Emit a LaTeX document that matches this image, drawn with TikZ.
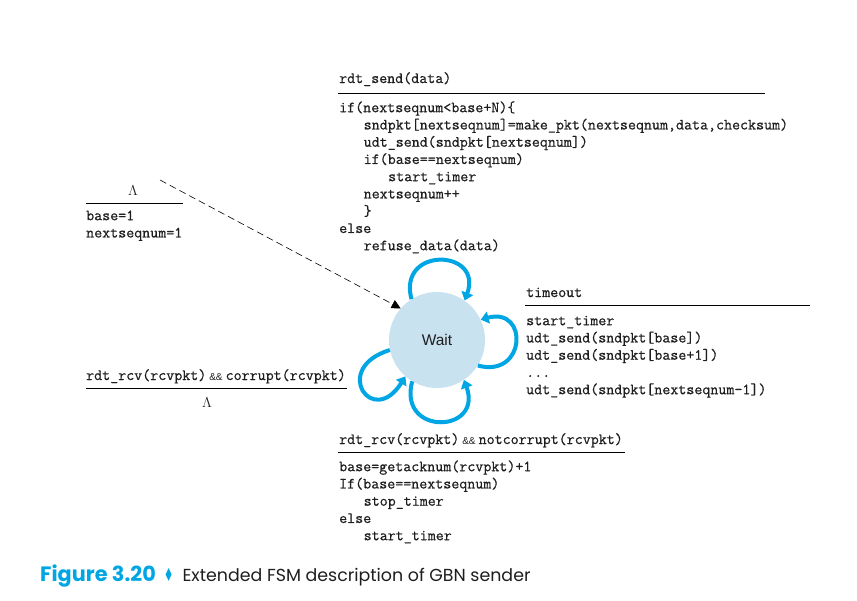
\documentclass[tikz,border=0pt]{standalone}
\usepackage{fontspec}
\setmainfont{Liberation Sans}
\setmonofont{Latin Modern Mono}[FakeBold=0.6]
\newfontfamily\capfont{Poppins}
\newfontfamily\dingfont{DejaVu Sans}
\usetikzlibrary{arrows.meta}
\definecolor{loopblue}{RGB}{0,166,228}
\definecolor{statefill}{RGB}{201,226,239}
\definecolor{codegray}{RGB}{30,30,30}
\newcommand\codefnt{\fontsize{15.55}{17.25}\selectfont\ttfamily}
\newcommand\tb{\hspace*{24.5pt}}
\newcommand\fs{\rule{0pt}{12pt}}
\newcommand\amps{\hspace{3pt}{\fontsize{10}{10}\selectfont\rmfamily\&\&}\hspace{3pt}}
\begin{document}
\begin{tikzpicture}[x=1pt,y=-1pt,
  code/.style={font=\codefnt, text=codegray, inner sep=0pt, align=left, anchor=north west},
  head/.style={font=\codefnt, text=codegray, inner sep=0pt, anchor=base west},
  rulel/.style={line width=0.8pt, black},
  state/.style={circle, fill=statefill, minimum size=96pt, inner sep=0pt,
    font=\fontsize{15.5}{18}\selectfont, text=codegray},
  selfloop/.style={line width=4pt, loopblue, -{Triangle[length=8pt,width=12pt]}},
  initarrow/.style={dash pattern=on 7pt off 4pt, line width=0.6pt, black, -{Triangle[length=9pt,width=9pt]}}]
\useasboundingbox (0,0) rectangle (857,600);

% state
\node[state] (wait) at (437,340) {Wait};

% rdt_send
\node[head] (sendh) at (339,83) {rdt\_send(data)};
\draw[rulel] (338,93) -- (765,93);
\node[code] (sendb) at (339,100) {\fs if(nextseqnum<base+N)\{\\
\tb sndpkt[nextseqnum]=make\_pkt(nextseqnum,data,checksum)\\
\tb udt\_send(sndpkt[nextseqnum])\\
\tb if(base==nextseqnum)\\
\tb\tb start\_timer\\
\tb nextseqnum++\\
\tb \}\\
else\\
\tb refuse\_data(data)};

% initial
\node[head] (inith) at (128,195) {$\Lambda$};
\draw[rulel] (86,203) -- (183,203);
\node[code] (initb) at (86,208) {\fs base=1\\ nextseqnum=1};
\coordinate (initstart) at (160,180);
\draw[initarrow] (initstart) -- (wait.139);

% corrupt
\node[head] (corrh) at (86,380) {rdt\_rcv(rcvpkt)\amps corrupt(rcvpkt)};
\draw[rulel] (86,388) -- (347,388);
\node[head] (corrb) at (202,407) {$\Lambda$};

% timeout
\node[head] (toh) at (526,297) {timeout};
\draw[rulel] (525,305) -- (810,305);
\node[code] (tob) at (526,313) {\fs start\_timer\\
udt\_send(sndpkt[base])\\
udt\_send(sndpkt[base+1])\\
...\\
udt\_send(sndpkt[nextseqnum-1])};

% notcorrupt
\node[head] (ackh) at (339,444) {rdt\_rcv(rcvpkt)\amps notcorrupt(rcvpkt)};
\draw[rulel] (338,452) -- (625,452);
\node[code] (ackb) at (339,459) {\fs base=getacknum(rcvpkt)+1\\
If(base==nextseqnum)\\
\tb stop\_timer\\
else\\
\tb start\_timer};

% self loops
\draw[selfloop] (wait.122) to[out=105,in=70,distance=55pt] (wait.55);
\draw[selfloop] (wait.-32) to[out=-15,in=15,distance=50pt] (wait.25);
\draw[selfloop] (wait.-121) to[out=-105,in=-70,distance=57pt] (wait.-56);
\draw[selfloop] (wait.192) to[out=197,in=238,distance=62pt] (wait.229);

% caption
\node[anchor=base west, inner sep=0pt, font=\capfont\fontsize{18}{20}\selectfont] (cap) at (40,581)
  {{\fontsize{20.8}{22}\selectfont\bfseries\color{loopblue}Figure 3.20}\hspace{8pt}{\color{loopblue}\dingfont\scalebox{0.6}[1]{♦}}\hspace{9pt}{\fontsize{17.4}{20}\selectfont\color{codegray}Extended FSM description of GBN sender}};
\end{tikzpicture}
\end{document}
